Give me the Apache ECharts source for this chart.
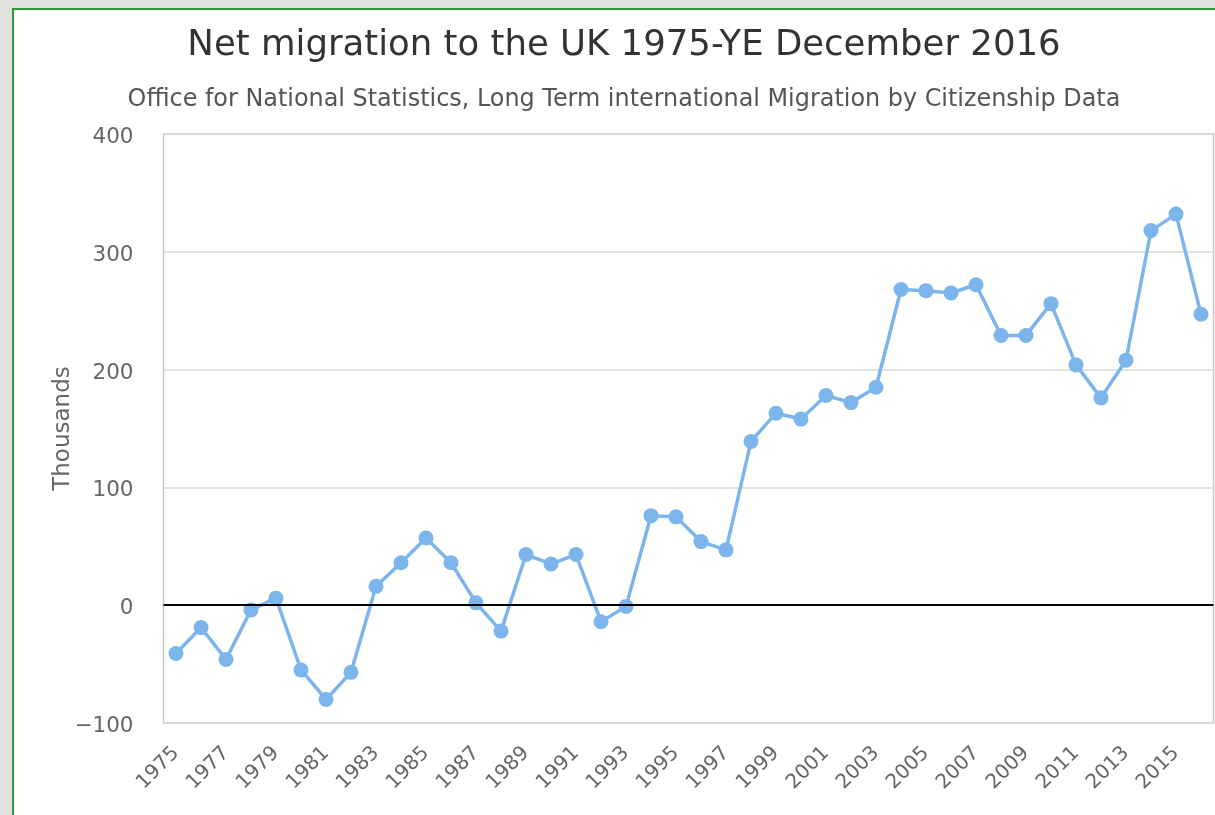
<!DOCTYPE html>
<html>
<head>
<meta charset="utf-8">
<script src="https://cdn.jsdelivr.net/npm/echarts@6/dist/echarts.min.js"></script>
<style>
  html, body { margin: 0; padding: 0; background: #e1e0dc; }
  #frame { position: absolute; left: 12px; top: 8px; width: 1215px; height: 820px;
           border-left: 2px solid #2e9a3a; border-top: 2px solid #2e9a3a; background: #fffffd; }
  #chart { position: absolute; left: 0; top: 0; width: 1215px; height: 815px; }
</style>
</head>
<body>
<div id="frame"></div>
<div id="chart"></div>
<script>
const years = ['1975','1976','1977','1978','1979','1980','1981','1982','1983','1984','1985','1986','1987','1988','1989','1990','1991','1992','1993','1994','1995','1996','1997','1998','1999','2000','2001','2002','2003','2004','2005','2006','2007','2008','2009','2010','2011','2012','2013','2014','2015','2016'];
const netMigration = [-41,-19,-46,-4,6,-55,-80,-57,16,36,57,36,2,-22,43,35,43,-14,-1,76,75,54,47,139,163,158,178,172,185,268,267,265,272,229,229,256,204,176,208,318,332,247];
const yTicks = { min: -100, max: 400, interval: 100 };

const chart = echarts.init(document.getElementById('chart'), null, { renderer: 'canvas' });
chart.setOption({
  backgroundColor: 'transparent',
  animation: false,
  title: {
    text: 'Net migration to the UK 1975-YE December 2016',
    subtext: 'Office for National Statistics, Long Term international Migration by Citizenship Data',
    left: 619, textAlign: 'center', top: 23,
    itemGap: 24,
    textStyle: { fontFamily: 'DejaVu Sans', fontSize: 35.5, fontWeight: 'normal', color: '#333333' },
    subtextStyle: { fontFamily: 'DejaVu Sans', fontSize: 23.9, color: '#555555' }
  },
  grid: { left: 163.5, right: 1.5, top: 134, bottom: 92, show: true, borderColor: '#c8c8c8', borderWidth: 1.5, backgroundColor: 'transparent' },
  xAxis: {
    type: 'category', data: years, boundaryGap: true,
    axisLine: { lineStyle: { color: '#ccd6eb', width: 1.5 } },
    axisTick: { alignWithLabel: true, interval: 1, length: 9, lineStyle: { color: '#ccd6eb', width: 1.5 } },
    axisLabel: { interval: 1, rotate: 45, margin: 27, fontFamily: 'DejaVu Sans', fontSize: 20, color: '#666666' }
  },
  yAxis: {
    type: 'value', min: yTicks.min, max: yTicks.max, interval: yTicks.interval,
    name: 'Thousands', nameLocation: 'middle', nameGap: 89, nameMoveOverlap: false,
    nameTextStyle: { fontFamily: 'DejaVu Sans', fontSize: 23, color: '#666666' },
    axisLine: { show: false }, axisTick: { show: false },
    axisLabel: { margin: 30, fontFamily: 'DejaVu Sans', fontSize: 21.5, color: '#666666',
                 formatter: v => '{v|' + (v < 0 ? '\u2212' + Math.abs(v) : String(v)) + '}',
                 rich: { v: { fontFamily: 'DejaVu Sans', fontSize: 21.5, color: '#666666', padding: [7, 0, 0, 0] } } },
    splitLine: { lineStyle: { color: '#d8d8d8', width: 1.5 } }
  },
  series: [{
    type: 'line', data: netMigration,
    symbol: 'circle', symbolSize: 15,
    lineStyle: { color: '#7cb5ec', width: 3.5 },
    itemStyle: { color: '#7cb5ec' },
    markLine: {
      silent: true, symbol: 'none', label: { show: false },
      lineStyle: { color: '#000000', width: 2, type: 'solid' },
      data: [{ yAxis: 0 }]
    },
    z: 3
  }]
});
</script>
</body>
</html>
